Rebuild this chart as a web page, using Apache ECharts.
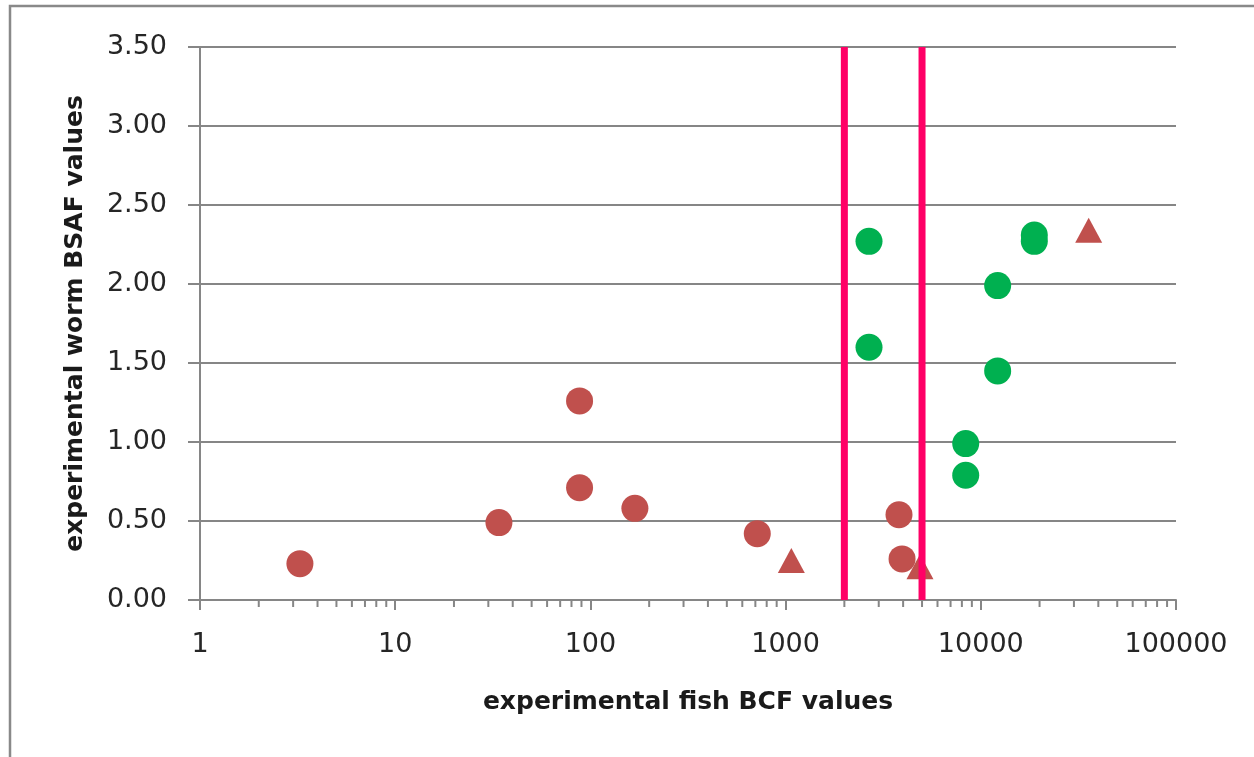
<!DOCTYPE html>
<html>
<head>
<meta charset="utf-8">
<script src="https://cdn.jsdelivr.net/npm/echarts@6/dist/echarts.min.js"></script>
<style>
html,body{margin:0;padding:0;background:#fff;}
#chart{width:1254px;height:757px;}
</style>
</head>
<body>
<div id="chart"></div>
<script>
// Data (x = fish BCF, y = worm BSAF)
var redCircles = [[3.25,0.23],[34,0.49],[88,0.71],[88,1.26],[169,0.58],[716,0.42],[3810,0.54],[3950,0.26]];
var redTriangles = [[1070,0.25],[4880,0.21],[35700,2.34]];
var greenCircles = [[2675,2.27],[2675,1.60],[12200,1.99],[12200,1.45],[8370,0.99],[8370,0.79],[18800,2.31],[18800,2.27]];
var thresholds = [2000, 5000];
var yTicks = [0, 0.5, 1, 1.5, 2, 2.5, 3, 3.5];
var xTickLabels = ['1','10','100','1000','10000','100000'];
var xTitle = 'experimental fish BCF values';
var yTitle = 'experimental worm BSAF values';

var minorTicks = [];
for (var d = 1; d < 100000; d *= 10) {
  for (var m = 2; m <= 9; m++) minorTicks.push(d * m);
}

var gridColor = '#868686';
var font = 'DejaVu Sans';

var chart = echarts.init(document.getElementById('chart'));
var series = [
  {
    type: 'custom',
    silent: true,
    clip: false,
    z: 1,
    data: minorTicks.map(function(v){ return [v, 0]; }),
    renderItem: function(params, api) {
      var p = api.coord([api.value(0), 0]);
      return {
        type: 'line',
        shape: {x1: p[0], y1: p[1], x2: p[0], y2: p[1] + 7},
        style: {stroke: gridColor, lineWidth: 2}
      };
    },
    encode: {x: 0, y: 1}
  },
  {
    type: 'scatter', data: redCircles, symbol: 'circle', symbolSize: 27,
    itemStyle: {color: '#C0504D', opacity: 1}, z: 3
  },
  {
    type: 'scatter', data: redTriangles, symbol: 'triangle', symbolSize: [27, 25],
    itemStyle: {color: '#C0504D', opacity: 1}, z: 3
  },
  {
    type: 'scatter', data: greenCircles, symbol: 'circle', symbolSize: 27,
    itemStyle: {color: '#00B050', opacity: 1}, z: 4
  }
];
thresholds.forEach(function(t){
  series.push({
    type: 'line', data: [[t, 0], [t, 3.5]], symbol: 'none', silent: true,
    lineStyle: {color: '#FF0066', width: 7}, z: 5, clip: false
  });
});

chart.setOption({
  animation: false,
  backgroundColor: '#ffffff',
  graphic: [{
    type: 'rect', silent: true,
    shape: {x: 10, y: 6, width: 1400, height: 900},
    style: {fill: 'none', stroke: '#898989', lineWidth: 2.5}
  }],
  grid: {left: 200, right: 78, top: 47, bottom: 157, containLabel: false},
  xAxis: {
    type: 'log', logBase: 10, min: 1, max: 100000,
    name: xTitle, nameLocation: 'middle', nameGap: 90,
    nameTextStyle: {fontFamily: font, fontWeight: 'bold', fontSize: 25, color: '#1a1a1a'},
    axisLine: {show: true, lineStyle: {color: gridColor, width: 2}},
    axisTick: {show: true, length: 10, inside: false, lineStyle: {color: gridColor, width: 2}},
    axisLabel: {
      margin: 31, fontFamily: font, fontSize: 27, color: '#262626',
      formatter: function(v){
        var i = Math.round(Math.log10(v));
        return xTickLabels[i] !== undefined ? xTickLabels[i] : '';
      }
    },
    splitLine: {show: false}
  },
  yAxis: {
    type: 'value', min: yTicks[0], max: yTicks[yTicks.length-1], interval: 0.5,
    name: yTitle, nameLocation: 'middle', nameGap: 112,
    nameTextStyle: {fontFamily: font, fontWeight: 'bold', fontSize: 25, color: '#1a1a1a'},
    axisLine: {show: true, lineStyle: {color: gridColor, width: 2}},
    axisTick: {show: true, length: 12, inside: false, lineStyle: {color: gridColor, width: 2}},
    axisLabel: {
      margin: 33, fontFamily: font, fontSize: 27, color: '#262626',
      formatter: function(v){ return v.toFixed(2); }
    },
    splitLine: {show: true, lineStyle: {color: gridColor, width: 2}}
  },
  series: series
});
</script>
</body>
</html>
